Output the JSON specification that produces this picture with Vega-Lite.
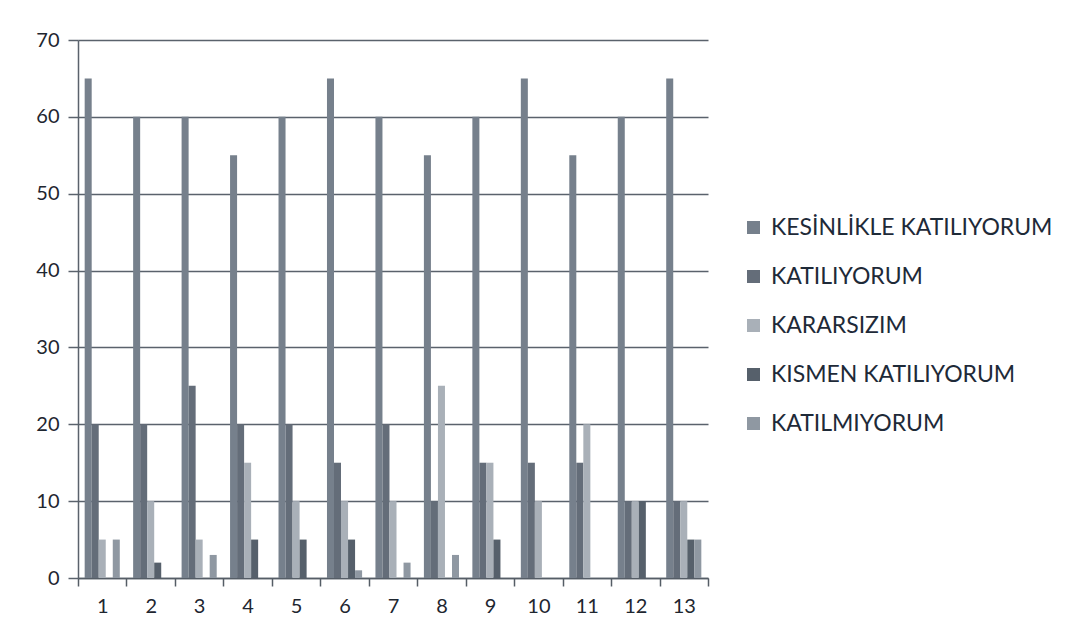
{
  "$schema": "https://vega.github.io/schema/vega-lite/v6.json",
  "width": 630,
  "height": 538,
  "autosize": {"type": "none"},
  "padding": {"left": 78, "top": 40, "right": 361, "bottom": 63},
  "background": "white",
  "config": {"view": {"stroke": null}, "font": "Lato"},
  "data": {"values": [
    {"q": "1", "s": "KESİNLİKLE  KATILIYORUM", "v": 65}, {"q": "1", "s": "KATILIYORUM", "v": 20}, {"q": "1", "s": "KARARSIZIM", "v": 5}, {"q": "1", "s": "KISMEN KATILIYORUM", "v": 0}, {"q": "1", "s": "KATILMIYORUM", "v": 5},
    {"q": "2", "s": "KESİNLİKLE  KATILIYORUM", "v": 60}, {"q": "2", "s": "KATILIYORUM", "v": 20}, {"q": "2", "s": "KARARSIZIM", "v": 10}, {"q": "2", "s": "KISMEN KATILIYORUM", "v": 2}, {"q": "2", "s": "KATILMIYORUM", "v": 0},
    {"q": "3", "s": "KESİNLİKLE  KATILIYORUM", "v": 60}, {"q": "3", "s": "KATILIYORUM", "v": 25}, {"q": "3", "s": "KARARSIZIM", "v": 5}, {"q": "3", "s": "KISMEN KATILIYORUM", "v": 0}, {"q": "3", "s": "KATILMIYORUM", "v": 3},
    {"q": "4", "s": "KESİNLİKLE  KATILIYORUM", "v": 55}, {"q": "4", "s": "KATILIYORUM", "v": 20}, {"q": "4", "s": "KARARSIZIM", "v": 15}, {"q": "4", "s": "KISMEN KATILIYORUM", "v": 5}, {"q": "4", "s": "KATILMIYORUM", "v": 0},
    {"q": "5", "s": "KESİNLİKLE  KATILIYORUM", "v": 60}, {"q": "5", "s": "KATILIYORUM", "v": 20}, {"q": "5", "s": "KARARSIZIM", "v": 10}, {"q": "5", "s": "KISMEN KATILIYORUM", "v": 5}, {"q": "5", "s": "KATILMIYORUM", "v": 0},
    {"q": "6", "s": "KESİNLİKLE  KATILIYORUM", "v": 65}, {"q": "6", "s": "KATILIYORUM", "v": 15}, {"q": "6", "s": "KARARSIZIM", "v": 10}, {"q": "6", "s": "KISMEN KATILIYORUM", "v": 5}, {"q": "6", "s": "KATILMIYORUM", "v": 1},
    {"q": "7", "s": "KESİNLİKLE  KATILIYORUM", "v": 60}, {"q": "7", "s": "KATILIYORUM", "v": 20}, {"q": "7", "s": "KARARSIZIM", "v": 10}, {"q": "7", "s": "KISMEN KATILIYORUM", "v": 0}, {"q": "7", "s": "KATILMIYORUM", "v": 2},
    {"q": "8", "s": "KESİNLİKLE  KATILIYORUM", "v": 55}, {"q": "8", "s": "KATILIYORUM", "v": 10}, {"q": "8", "s": "KARARSIZIM", "v": 25}, {"q": "8", "s": "KISMEN KATILIYORUM", "v": 0}, {"q": "8", "s": "KATILMIYORUM", "v": 3},
    {"q": "9", "s": "KESİNLİKLE  KATILIYORUM", "v": 60}, {"q": "9", "s": "KATILIYORUM", "v": 15}, {"q": "9", "s": "KARARSIZIM", "v": 15}, {"q": "9", "s": "KISMEN KATILIYORUM", "v": 5}, {"q": "9", "s": "KATILMIYORUM", "v": 0},
    {"q": "10", "s": "KESİNLİKLE  KATILIYORUM", "v": 65}, {"q": "10", "s": "KATILIYORUM", "v": 15}, {"q": "10", "s": "KARARSIZIM", "v": 10}, {"q": "10", "s": "KISMEN KATILIYORUM", "v": 0}, {"q": "10", "s": "KATILMIYORUM", "v": 0},
    {"q": "11", "s": "KESİNLİKLE  KATILIYORUM", "v": 55}, {"q": "11", "s": "KATILIYORUM", "v": 15}, {"q": "11", "s": "KARARSIZIM", "v": 20}, {"q": "11", "s": "KISMEN KATILIYORUM", "v": 0}, {"q": "11", "s": "KATILMIYORUM", "v": 0},
    {"q": "12", "s": "KESİNLİKLE  KATILIYORUM", "v": 60}, {"q": "12", "s": "KATILIYORUM", "v": 10}, {"q": "12", "s": "KARARSIZIM", "v": 10}, {"q": "12", "s": "KISMEN KATILIYORUM", "v": 10}, {"q": "12", "s": "KATILMIYORUM", "v": 0},
    {"q": "13", "s": "KESİNLİKLE  KATILIYORUM", "v": 65}, {"q": "13", "s": "KATILIYORUM", "v": 10}, {"q": "13", "s": "KARARSIZIM", "v": 10}, {"q": "13", "s": "KISMEN KATILIYORUM", "v": 5}, {"q": "13", "s": "KATILMIYORUM", "v": 5}
  ]},
  "mark": {"type": "bar"},
  "encoding": {
    "x": {
      "field": "q", "type": "nominal", "sort": null,
      "scale": {"paddingInner": 0, "paddingOuter": 0},
      "axis": {"title": null, "labelAngle": 0, "labelFontSize": 20, "labelColor": "#1e2630", "tickBand": "extent", "tickSize": 8, "tickColor": "#555d66", "tickWidth": 1.5, "domainColor": "#555d66", "domainWidth": 1.5, "labelPadding": 10}
    },
    "xOffset": {
      "field": "s", "type": "nominal",
      "sort": ["KESİNLİKLE  KATILIYORUM", "KATILIYORUM", "KARARSIZIM", "KISMEN KATILIYORUM", "KATILMIYORUM"],
      "scale": {"paddingInner": 0, "paddingOuter": 0.95}
    },
    "y": {
      "field": "v", "type": "quantitative",
      "scale": {"domain": [0, 70], "nice": false},
      "axis": {"title": null, "values": [0, 10, 20, 30, 40, 50, 60, 70], "labelFontSize": 20, "labelColor": "#1e2630", "grid": true, "gridColor": "#5a626c", "gridWidth": 1.5, "tickSize": 10, "tickColor": "#5a626c", "tickWidth": 1.5, "domainColor": "#5a626c", "domainWidth": 1.5, "labelPadding": 9}
    },
    "color": {
      "field": "s", "type": "nominal",
      "sort": ["KESİNLİKLE  KATILIYORUM", "KATILIYORUM", "KARARSIZIM", "KISMEN KATILIYORUM", "KATILMIYORUM"],
      "scale": {
        "domain": ["KESİNLİKLE  KATILIYORUM", "KATILIYORUM", "KARARSIZIM", "KISMEN KATILIYORUM", "KATILMIYORUM"],
        "range": ["#76808c", "#646d79", "#a9b0b8", "#56606b", "#8f98a2"]
      },
      "legend": {
        "title": null, "orient": "none", "legendX": 664, "legendY": 176,
        "symbolType": "square", "symbolSize": 170, "symbolStrokeWidth": 0,
        "labelFontSize": 23, "labelColor": "#1e2a38", "labelLimit": 400,
        "rowPadding": 25, "labelOffset": 6
      }
    }
  }
}
